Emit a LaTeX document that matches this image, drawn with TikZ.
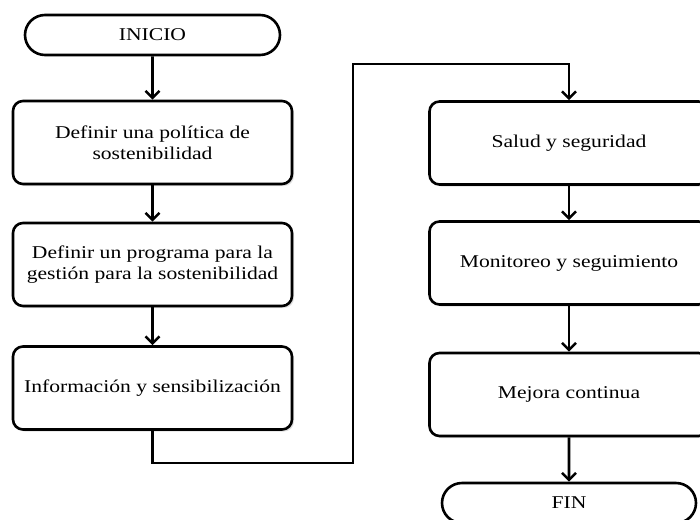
\documentclass[tikz,border=0pt]{standalone}
\usepackage{fontspec}
\setmainfont{Liberation Serif}[FakeStretch=1.2]
\usetikzlibrary{arrows.meta,shapes.misc,shadows}
\begin{document}
\begin{tikzpicture}[x=1pt,y=-1pt,
  every node/.style={font=\fontsize{18}{21}\selectfont, align=center, inner sep=0pt},
  procbox/.style={draw, line width=2.6pt, rounded corners=10pt, fill=white,
    minimum width=279pt, minimum height=83pt,
    drop shadow={shadow xshift=2pt, shadow yshift=-2pt, fill=black!20, opacity=0.6}},
  termbox/.style={draw, line width=2.6pt, rounded rectangle, fill=white,
    minimum width=255pt, minimum height=40pt},
  flow/.style={line width=2.6pt, -{Straight Barb[length=7pt,width=14pt,line width=2.6pt]}}]
\useasboundingbox (0,0) rectangle (700,519);
\clip (0,0) rectangle (700,519);
\fill[white] (0,0) rectangle (700,519);

\node[termbox] (inicio) at (152.5,35) {INICIO};
\node[procbox] (b1) at (152.5,142.5) {Definir una política de\\sostenibilidad};
\node[procbox] (b2) at (152.5,264.5) {Definir un programa para la\\gestión para la sostenibilidad};
\node[procbox] (b3) at (152.5,388) {Información y sensibilización};

\node[procbox] (b4) at (569,143) {Salud y seguridad};
\node[procbox] (b5) at (569,263) {Monitoreo y seguimiento};
\node[procbox] (b6) at (569,394.5) {Mejora continua};
\node[termbox, minimum width=254pt] (fin) at (569,503) {FIN};

\coordinate (c1) at (152.5,463);
\coordinate (c2) at (353,64);

\draw[flow] (inicio) -- (b1);
\draw[flow] (b1) -- (b2);
\draw[flow] (b2) -- (b3);
\draw[flow] (b3.south) -- (c1) -| (c2) -| (b4.north);
\draw[flow] (b4) -- (b5);
\draw[flow] (b5) -- (b6);
\draw[flow] (b6) -- (fin);
\end{tikzpicture}
\end{document}
